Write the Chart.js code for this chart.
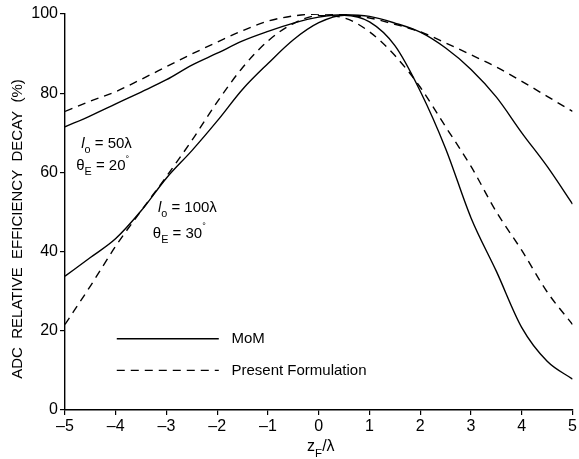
<!DOCTYPE html>
<html lang="en">
<head>
    <meta charset="UTF-8">
    <title>ADC relative efficiency decay</title>
    <script src="https://cdn.jsdelivr.net/npm/chart.js@4.4.0/dist/chart.umd.min.js"></script>
    <style>
        html, body { margin: 0; padding: 0; background: #fff; }
        #wrap { width: 579px; height: 459px; }
    </style>
</head>
<body>
<div id="wrap"><canvas id="grafico"></canvas></div>
<script>
    const zPontos = [-5, -4.5, -4, -3.5, -3, -2.5, -2, -1.5, -1, -0.5, 0, 0.5, 1, 1.5, 2, 2.5, 3, 3.5, 4, 4.5, 5];

    // l0 = 50 lambda, thetaE = 20 deg
    const mom50 = [71.5, 74.3, 77.3, 80.3, 83.4, 87.1, 90.1, 93.2, 95.6, 97.7, 99.2, 99.8, 99.4, 97.7, 95.4, 91.4, 86, 79, 70, 61.5, 52];
    const present50 = [75.4, 78, 80.4, 83.5, 86.7, 89.9, 92.9, 95.8, 98.2, 99.5, 100, 99.8, 99, 97.4, 95.5, 92.7, 89.7, 86.6, 83, 79.2, 75.4];

    // l0 = 100 lambda, thetaE = 30 deg
    const mom100 = [33.8, 38.5, 43.3, 50.3, 58.6, 65.5, 73, 81, 87.5, 93.5, 97.8, 99.7, 98, 92, 80.5, 66, 48.5, 35, 20.8, 12.3, 7.8];
    const present100 = [21.6, 31.3, 41.4, 50.3, 59, 68.1, 77.8, 86.5, 93.2, 97.6, 99.6, 99, 95.5, 89.5, 81.5, 71.5, 61.5, 50, 40.3, 29.8, 21.6];

    const yTicks = [0, 20, 40, 60, 80, 100];
    const xTicks = [-5, -4, -3, -2, -1, 0, 1, 2, 3, 4, 5];

    const fonte = '"Liberation Sans", Arial, sans-serif';
    const tracejado = [8, 6];

    function serie(valores, dash) {
        return {
            data: zPontos.map(function (z, i) { return { x: z, y: valores[i] }; }),
            borderColor: '#000',
            borderWidth: 1.4,
            borderDash: dash,
            pointRadius: 0,
            cubicInterpolationMode: 'monotone',
            fill: false
        };
    }

    // text with italic / subscript / superscript parts
    function textoComposto(ctx, partes, x, y, tam) {
        let cx = x;
        partes.forEach(function (p) {
            const t = p.sub ? tam * 0.72 : (p.sup ? tam * 0.6 : tam);
            ctx.font = (p.italic ? 'italic ' : '') + t + 'px ' + fonte;
            const dy = p.sub ? tam * 0.35 : (p.sup ? -tam * 0.55 : 0);
            ctx.fillText(p.t, cx, y + dy);
            cx += ctx.measureText(p.t).width;
        });
    }

    const anotacoes = {
        id: 'anotacoes',
        afterDatasetsDraw(chart) {
            const ctx = chart.ctx;
            const xs = chart.scales.x, ys = chart.scales.y;
            const px = function (v) { return xs.getPixelForValue(v); };
            const py = function (v) { return ys.getPixelForValue(v); };
            ctx.save();
            ctx.fillStyle = '#000';
            ctx.textBaseline = 'alphabetic';
            ctx.textAlign = 'left';

            textoComposto(ctx, [{ t: 'l', italic: true }, { t: 'o', sub: true }, { t: ' = 50\u03bb' }], px(-4.68), py(66.2), 15);
            textoComposto(ctx, [{ t: '\u03b8' }, { t: 'E', sub: true }, { t: ' = 20' }, { t: '\u00b0', sup: true }], px(-4.78), py(60.6), 15);
            textoComposto(ctx, [{ t: 'l', italic: true }, { t: 'o', sub: true }, { t: ' = 100\u03bb' }], px(-3.17), py(50), 15);
            textoComposto(ctx, [{ t: '\u03b8' }, { t: 'E', sub: true }, { t: ' = 30' }, { t: '\u00b0', sup: true }], px(-3.27), py(43.5), 15);

            // legend
            ctx.strokeStyle = '#000';
            ctx.lineWidth = 1.4;
            ctx.beginPath();
            ctx.setLineDash([]);
            ctx.moveTo(px(-3.98), py(18));
            ctx.lineTo(px(-1.97), py(18));
            ctx.stroke();
            ctx.beginPath();
            ctx.setLineDash(tracejado);
            ctx.moveTo(px(-3.98), py(10));
            ctx.lineTo(px(-1.97), py(10));
            ctx.stroke();
            ctx.setLineDash([]);
            ctx.font = '15px ' + fonte;
            ctx.textBaseline = 'middle';
            ctx.fillText('MoM', px(-1.72), py(18));
            ctx.fillText('Present Formulation', px(-1.72), py(10));

            // x axis title z_F / lambda
            ctx.textBaseline = 'alphabetic';
            ctx.font = '16px ' + fonte;
            const larg = ctx.measureText('z').width + 16 * 0.72 * 0.6 + ctx.measureText('/\u03bb').width;
            textoComposto(ctx, [{ t: 'z' }, { t: 'F', sub: true }, { t: '/\u03bb' }], px(0) - larg / 2 + 2, 451, 16);

            // y axis title
            ctx.save();
            ctx.translate(18, (chart.chartArea.top + chart.chartArea.bottom) / 2 + 17);
            ctx.rotate(-Math.PI / 2);
            ctx.textAlign = 'center';
            ctx.textBaseline = 'middle';
            ctx.font = '15px ' + fonte;
            ctx.fillText('ADC  RELATIVE  EFFICIENCY  DECAY  (%)', 0, 0);
            ctx.restore();

            ctx.restore();
        }
    };

    const config = {
        type: 'line',
        data: {
            datasets: [
                serie(mom50, []),
                serie(present50, tracejado),
                serie(mom100, []),
                serie(present100, tracejado)
            ]
        },
        options: {
            responsive: false,
            animation: false,
            events: [],
            layout: { padding: { top: 14, right: 6, left: 0, bottom: 0 } },
            plugins: {
                legend: { display: false },
                tooltip: { enabled: false },
                title: { display: false }
            },
            scales: {
                x: {
                    type: 'linear',
                    min: -5,
                    max: 5,
                    afterBuildTicks: function (scale) {
                        scale.ticks = xTicks.map(function (v) { return { value: v }; });
                    },
                    afterFit: function (scale) { scale.height = 49; },
                    ticks: {
                        color: '#000',
                        padding: 2,
                        maxRotation: 0,
                        font: { family: fonte, size: 16 },
                        callback: function (v) { return String(v).replace('-', '\u2013'); }
                    },
                    grid: { drawOnChartArea: false, drawTicks: true, tickLength: 5, color: '#000', lineWidth: 1.2 },
                    border: { display: true, color: '#000', width: 1.4 }
                },
                y: {
                    min: 0,
                    max: 100,
                    afterBuildTicks: function (scale) {
                        scale.ticks = yTicks.map(function (v) { return { value: v }; });
                    },
                    afterFit: function (scale) { scale.width = 65; },
                    ticks: {
                        color: '#000',
                        padding: 2,
                        font: { family: fonte, size: 16 }
                    },
                    grid: { drawOnChartArea: false, drawTicks: true, tickLength: 5, color: '#000', lineWidth: 1.2 },
                    border: { display: true, color: '#000', width: 1.4 }
                }
            }
        },
        plugins: [anotacoes]
    };

    const canvas = document.getElementById('grafico');
    canvas.width = 579;
    canvas.height = 459;
    new Chart(canvas, config);
</script>
</body>
</html>
